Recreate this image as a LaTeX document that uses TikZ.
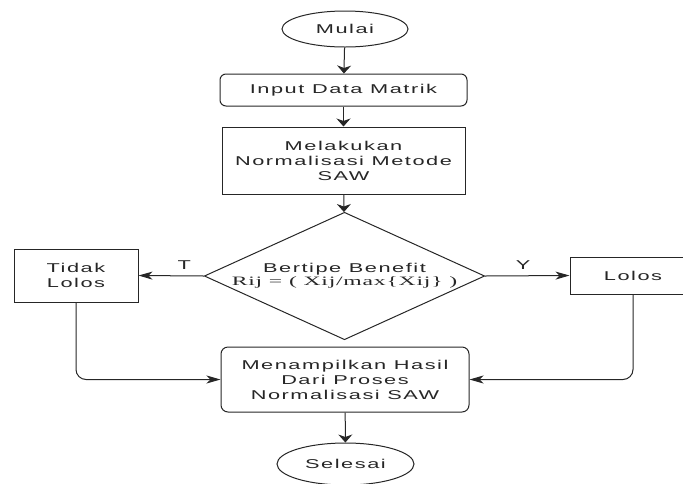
\documentclass[tikz,border=0pt]{standalone}
\usepackage{fontspec}
\setmainfont{Liberation Sans}[FakeStretch=1.7, LetterSpace=12]
\newfontfamily\rumusfont{Liberation Serif}[FakeStretch=1.85, LetterSpace=6]
\usetikzlibrary{shapes,arrows.meta,positioning,calc}
\tikzset{
terminal/.style = {draw, ellipse, minimum width=126pt, minimum height=36pt, inner sep=0pt},
proses/.style = {draw, rectangle, minimum width=243pt, minimum height=67pt, align=center},
rproses/.style = {proses, rounded corners=7pt},
cabang/.style = {draw, diamond, minimum width=267pt, minimum height=120pt, inner sep=0pt, aspect=2.2, align=center},
hasil/.style = {draw, rectangle, align=center},
line/.style = {draw, -{Stealth[length=8pt, width=14pt, inset=2.5pt]}},
hline/.style = {draw, -{Stealth[length=14pt, width=8pt, inset=4pt]}},
label/.style = {inner sep=0pt}
}

\begin{document}
\begin{tikzpicture}[x=1pt, y=-1pt, line width=1pt, color=black!85,
    font=\fontsize{12.8}{15}\selectfont]
        \clip (0,0) rectangle (683,483);
        \node [terminal] (mulai) at (345,29) {Mulai};
        \node [rproses, minimum width=247pt, minimum height=32pt, rounded corners=6pt] (input) at (343.5,90) {Input Data Matrik};
        \node [proses] (normal) at (343.5,160.5) {Melakukan\\Normalisasi Metode\\SAW};
        \node [cabang] (cek) at (344.5,276) {Bertipe Benefit\\[-2pt]{\rumusfont Rij = ( Xij/max\{Xij\} )}};
        \node [hasil, minimum width=124pt, minimum height=53pt] (tidak) at (76,275.5) {Tidak\\Lolos};
        \node [hasil, minimum width=126pt, minimum height=37pt] (lolos) at (633,275.5) {Lolos};
        \node [rproses, minimum width=248pt, minimum height=65pt] (tampil) at (345,379.5) {Menampilkan Hasil\\Dari Proses\\Normalisasi SAW};
        \node [terminal, minimum width=137pt, minimum height=42pt] (selesai) at (345.5,464) {Selesai};
        \draw [line] (mulai) -- (input);
        \draw [line] (input) -- (normal);
        \draw [line] (normal) -- (cek);
        \draw [hline] (cek.west) -- node [label, above=6pt, pos=0.3] {T} (tidak.east);
        \draw [hline] (cek.east) -- node [label, above=6pt, pos=0.45] {Y} (lolos.west);
        \draw [hline, rounded corners=10pt] (tidak.south) |- (tampil.west);
        \draw [hline, rounded corners=10pt] (lolos.south) |- (tampil.east);
        \draw [line] (tampil) -- (selesai);
\end{tikzpicture}
\end{document}
